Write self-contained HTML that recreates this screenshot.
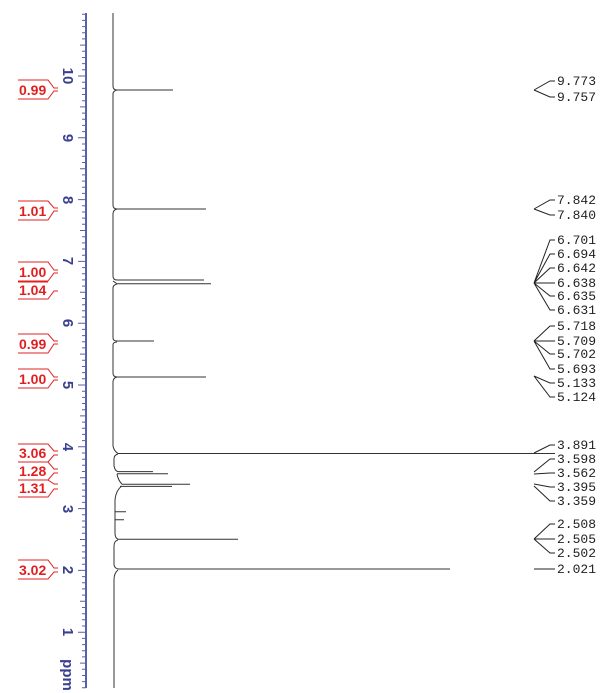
<!DOCTYPE html>
<html><head><meta charset="utf-8"><style>
html,body{margin:0;padding:0;background:#fff;width:615px;height:693px;overflow:hidden}
svg{display:block}
.r{font-family:"Liberation Mono",monospace;font-size:13px;fill:#222}
.i{font-family:"Liberation Sans",sans-serif;font-size:14px;font-weight:bold;fill:#e02020}
.a{font-family:"Liberation Sans",sans-serif;font-size:15px;font-weight:bold;fill:#3a3f8f}
</style></head><body>
<svg width="615" height="693" viewBox="0 0 615 693">
<line x1="86" y1="13" x2="86" y2="688" stroke="#5a5fa8" stroke-width="2"/>
<g stroke="#5a5fa8" stroke-width="1">
<path d="M82 14.2h4M82 20.4h4M82 26.6h4M82 32.7h4M82 38.9h4M80 45.1h6M82 51.3h4M82 57.5h4M82 63.6h4M82 69.8h4M78 76h8M82 82.2h4M82 88.4h4M82 94.5h4M82 100.7h4M80 106.9h6M82 113.1h4M82 119.3h4M82 125.4h4M82 131.6h4M78 137.8h8M82 144h4M82 150.2h4M82 156.3h4M82 162.5h4M80 168.7h6M82 174.9h4M82 181.1h4M82 187.2h4M82 193.4h4M78 199.6h8M82 205.8h4M82 212h4M82 218.1h4M82 224.3h4M80 230.5h6M82 236.7h4M82 242.9h4M82 249h4M82 255.2h4M78 261.4h8M82 267.6h4M82 273.8h4M82 279.9h4M82 286.1h4M80 292.3h6M82 298.5h4M82 304.7h4M82 310.8h4M82 317h4M78 323.2h8M82 329.4h4M82 335.6h4M82 341.7h4M82 347.9h4M80 354.1h6M82 360.3h4M82 366.5h4M82 372.6h4M82 378.8h4M78 385h8M82 391.2h4M82 397.4h4M82 403.5h4M82 409.7h4M80 415.9h6M82 422.1h4M82 428.3h4M82 434.4h4M82 440.6h4M78 446.8h8M82 453h4M82 459.2h4M82 465.3h4M82 471.5h4M80 477.7h6M82 483.9h4M82 490.1h4M82 496.2h4M82 502.4h4M78 508.6h8M82 514.8h4M82 521h4M82 527.1h4M82 533.3h4M80 539.5h6M82 545.7h4M82 551.9h4M82 558h4M82 564.2h4M78 570.4h8M82 576.6h4M82 582.8h4M82 588.9h4M82 595.1h4M80 601.3h6M82 607.5h4M82 613.7h4M82 619.8h4M82 626h4M78 632.2h8M82 638.4h4M82 644.6h4M82 650.7h4M82 656.9h4M80 663.1h6M82 669.3h4M82 675.5h4M82 681.6h4M82 687.8h4"/>
</g>
<g class="a">
<text transform="translate(63,76) rotate(90)" text-anchor="middle">10</text>
<text transform="translate(63,138) rotate(90)" text-anchor="middle">9</text>
<text transform="translate(63,200) rotate(90)" text-anchor="middle">8</text>
<text transform="translate(63,261) rotate(90)" text-anchor="middle">7</text>
<text transform="translate(63,323) rotate(90)" text-anchor="middle">6</text>
<text transform="translate(63,385) rotate(90)" text-anchor="middle">5</text>
<text transform="translate(63,447) rotate(90)" text-anchor="middle">4</text>
<text transform="translate(63,509) rotate(90)" text-anchor="middle">3</text>
<text transform="translate(63,570) rotate(90)" text-anchor="middle">2</text>
<text transform="translate(63,632) rotate(90)" text-anchor="middle">1</text>
<text transform="translate(63,675) rotate(90)" text-anchor="middle">ppm</text>
</g>
<g stroke="#333" stroke-width="1" fill="none">
<path d="M113 13V86Q113 90 117 90H173M117 90Q113 91 113 94V205Q113 209 117 209H206M117 209Q113 210 113 214V276Q113 280 117 280H204M113 281L117 283.8H211M117 284Q113 285 113 288V338Q113 341 117 341H154M117 342Q113 342 113 345V373Q113 377 117 377H206M117 377Q113 378 113 382V446Q114 451 118 453.5H555M118 454Q114 455 114 459V466Q115 471 118 471.6H153M117 473.8H168M117 474Q118 480 122 484.2H190M120 486.4H172M122 486Q116 490 115 500V533Q115 538 118 539.2H238M118 540Q114 541 114 546V564Q114 568 118 569H450M118 570Q114 573 114 580V688"/>
<path d="M115 511.7H126M115 519.7H124"/>
</g>
<g stroke="#e02020" stroke-width="1" fill="none">
<path d="M18 80H48L54 88H58M18 99H48L54 91H58"/>
<path d="M18 201H48L54 208H58M18 220H48L54 211H58"/>
<path d="M18 262H48L54 270H58M18 281H48L54 273H58"/>
<path d="M18 282H48M18 299H48L54 291H58"/>
<path d="M18 334H48L54 341H58M18 353H48L54 344H58"/>
<path d="M18 369H48L54 377H58M18 388H48L54 380H58"/>
<path d="M18 444H48L54 451H58M18 462H48L54 455H58"/>
<path d="M18 462H48L54 469H58M18 480H48L54 473H58"/>
<path d="M18 480H48L54 484H58M18 497H48L54 489H58"/>
<path d="M18 560H48L54 568H58M18 579H48L54 572H58"/>
</g>
<g class="i">
<text x="19" y="95">0.99</text>
<text x="19" y="216">1.01</text>
<text x="19" y="277">1.00</text>
<text x="19" y="295">1.04</text>
<text x="19" y="349">0.99</text>
<text x="19" y="384">1.00</text>
<text x="19" y="458">3.06</text>
<text x="19" y="476">1.28</text>
<text x="19" y="493">1.31</text>
<text x="19" y="575">3.02</text>
</g>
<g stroke="#222" stroke-width="1" fill="none">
<path d="M534 90L550 81H555M534 90L550 97H555"/>
<path d="M534 209L550 200H555M534 209L550 215H555"/>
<path d="M534 283L550 240H555M534 283L550 254H555M534 283L550 268H555M534 283H555M534 283L550 296H555M534 283L550 310H555"/>
<path d="M534 341L550 326H555M534 341H555M534 341L550 354H555M534 341L550 369H555"/>
<path d="M534 376L550 383H555M534 376L550 397H555"/>
<path d="M534 453L550 445H555M534 472L550 459H555M534 474L550 473H555M534 484L550 487H555M534 486L550 501H555"/>
<path d="M534 539L550 524H555M534 539H555M534 539L550 553H555"/>
<path d="M534 569H555"/>
</g>
<g class="r">
<text x="557" y="85">9.773</text><text x="557" y="101">9.757</text>
<text x="557" y="204">7.842</text><text x="557" y="219">7.840</text>
<text x="557" y="244">6.701</text><text x="557" y="258">6.694</text><text x="557" y="272">6.642</text><text x="557" y="287">6.638</text><text x="557" y="300">6.635</text><text x="557" y="314">6.631</text>
<text x="557" y="330">5.718</text><text x="557" y="345">5.709</text><text x="557" y="358">5.702</text><text x="557" y="373">5.693</text>
<text x="557" y="387">5.133</text><text x="557" y="401">5.124</text>
<text x="557" y="449">3.891</text><text x="557" y="463">3.598</text><text x="557" y="477">3.562</text><text x="557" y="491">3.395</text><text x="557" y="505">3.359</text>
<text x="557" y="528">2.508</text><text x="557" y="543">2.505</text><text x="557" y="557">2.502</text>
<text x="557" y="573">2.021</text>
</g>
</svg>
</body></html>
